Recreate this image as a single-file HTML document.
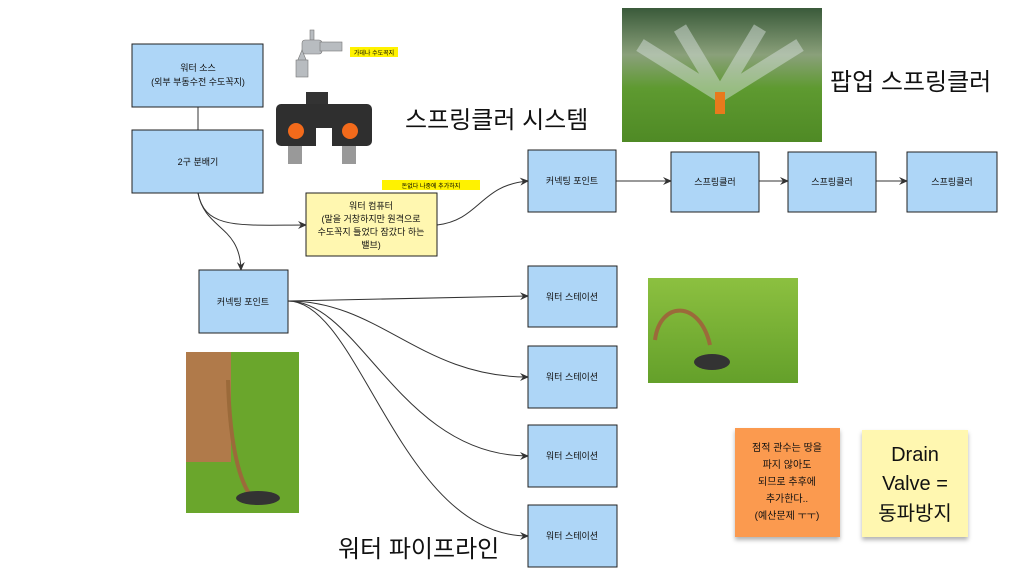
<!DOCTYPE html>
<html><head><meta charset="utf-8"><style>
body{margin:0;width:1024px;height:580px;background:#fff;overflow:hidden;font-family:"Liberation Sans","Noto Sans CJK KR",sans-serif}
</style></head><body>
<svg width="1024" height="580" xmlns="http://www.w3.org/2000/svg" style="font-family:'Liberation Sans','Noto Sans CJK KR',sans-serif">
<defs>
<marker id="a" markerWidth="10" markerHeight="10" refX="8" refY="5" orient="auto" markerUnits="userSpaceOnUse"><path d="M0,1 L9,5 L0,9 L3,5z" fill="#333"/></marker>
<linearGradient id="g1" x1="0" y1="0" x2="0" y2="1"><stop offset="0" stop-color="#3a5a3a"/><stop offset="0.35" stop-color="#8aa07a"/><stop offset="0.6" stop-color="#5e9a30"/><stop offset="1" stop-color="#4f8a25"/></linearGradient>
<linearGradient id="g2" x1="0" y1="0" x2="0" y2="1"><stop offset="0" stop-color="#8cc040"/><stop offset="1" stop-color="#64a02a"/></linearGradient>
<filter id="sh"><feDropShadow dx="0" dy="3" stdDeviation="2" flood-opacity="0.3"/></filter>
</defs>
<g stroke="#333" stroke-width="1" fill="none">
<line x1="198" y1="107" x2="198" y2="130"/>
<path d="M198,193 C205,230 240,225 306,225" marker-end="url(#a)"/>
<path d="M198,193 C205,230 240,225 241,270" marker-end="url(#a)"/>
<path d="M437,225 C480,220 480,185 528,181" marker-end="url(#a)"/>
<line x1="616" y1="181" x2="671" y2="181" marker-end="url(#a)"/>
<line x1="759" y1="181" x2="788" y2="181" marker-end="url(#a)"/>
<line x1="876" y1="181" x2="907" y2="181" marker-end="url(#a)"/>
<path d="M288,301 L528,296" marker-end="url(#a)"/>
<path d="M288,301 C380,301 420,377 528,377" marker-end="url(#a)"/>
<path d="M288,301 C360,301 400,456 528,456" marker-end="url(#a)"/>
<path d="M288,301 C360,301 400,536 528,536" marker-end="url(#a)"/>
</g>
<g fill="#aed6f7" stroke="#222" stroke-width="1">
<rect x="132" y="44" width="131" height="63"/>
<rect x="132" y="130" width="131" height="63"/>
<rect x="528" y="150" width="88" height="62"/>
<rect x="671" y="152" width="88" height="60"/>
<rect x="788" y="152" width="88" height="60"/>
<rect x="907" y="152" width="90" height="60"/>
<rect x="199" y="270" width="89" height="63"/>
<rect x="528" y="266" width="89" height="61"/>
<rect x="528" y="346" width="89" height="62"/>
<rect x="528" y="425" width="89" height="62"/>
<rect x="528" y="505" width="89" height="62"/>
</g>
<rect x="306" y="193" width="131" height="63" fill="#fff7b0" stroke="#222"/>
<rect x="382" y="180" width="98" height="10" fill="#fff200"/>
<rect x="350" y="47" width="48" height="10" fill="#fff200"/>
<g font-size="9" fill="#111" text-anchor="middle">
<text x="198" y="71">워터 소스</text><text x="198" y="85">(외부 부동수전 수도꼭지)</text>
<text x="198" y="165">2구 분배기</text>
<text x="371" y="209">워터 컴퓨터</text><text x="371" y="222">(말을 거창하지만 원격으로</text><text x="371" y="235">수도꼭지 틀었다 잠갔다 하는</text><text x="371" y="248">밸브)</text>
<text x="572" y="184">커넥팅 포인트</text>
<text x="715" y="185">스프링클러</text><text x="832" y="185">스프링클러</text><text x="952" y="185">스프링클러</text>
<text x="243" y="305">커넥팅 포인트</text>
<text x="572" y="300">워터 스테이션</text><text x="572" y="380">워터 스테이션</text><text x="572" y="459">워터 스테이션</text><text x="572" y="539">워터 스테이션</text>
</g>
<text x="431" y="188" font-size="6" text-anchor="middle">돈없다 나중에 추가하지</text>
<text x="374" y="55" font-size="6" text-anchor="middle">가데나 수도꼭지</text>
<text x="405" y="128" font-size="24" fill="#111">스프링클러 시스템</text>
<text x="830" y="90" font-size="24" fill="#111">팝업 스프링클러</text>
<text x="338" y="557" font-size="24" fill="#111">워터 파이프라인</text>
<g fill="#b8bcc0" stroke="#777" stroke-width="0.6"><rect x="310" y="30" width="4" height="10"/><rect x="302" y="40" width="20" height="14" rx="3"/><rect x="320" y="42" width="22" height="9"/><path d="M302,50 l-5,12 h10 z"/><rect x="296" y="60" width="12" height="17"/></g>
<rect x="306" y="92" width="22" height="14" fill="#333"/>
<rect x="276" y="104" width="96" height="42" rx="5" fill="#2f2f2f"/>
<rect x="316" y="128" width="16" height="20" fill="#fff"/>
<circle cx="296" cy="131" r="8" fill="#f26a1b"/><circle cx="350" cy="131" r="8" fill="#f26a1b"/>
<rect x="288" y="146" width="14" height="18" fill="#999"/><rect x="342" y="146" width="14" height="18" fill="#999"/>
<rect x="622" y="8" width="200" height="134" fill="url(#g1)"/>
<path d="M720,95 L640,45 M720,95 L680,28 M720,95 L760,28 M720,95 L800,45" stroke="#e0e8e8" stroke-width="14" opacity="0.45"/>
<rect x="715" y="92" width="10" height="22" fill="#e87a1c"/>
<rect x="648" y="278" width="150" height="105" fill="url(#g2)"/>
<path d="M655,340 C660,300 700,300 710,345" stroke="#9b6a3a" stroke-width="4" fill="none"/>
<ellipse cx="712" cy="362" rx="18" ry="8" fill="#333"/>
<rect x="186" y="352" width="113" height="161" fill="#6aa62c"/>
<rect x="186" y="352" width="45" height="110" fill="#b07a4a"/>
<path d="M228,380 C230,450 240,480 250,495" stroke="#9b6a3a" stroke-width="4" fill="none"/>
<ellipse cx="258" cy="498" rx="22" ry="7" fill="#333"/>
<rect x="735" y="428" width="105" height="109" fill="#fb9a4f" filter="url(#sh)"/>
<g font-size="10" fill="#111" text-anchor="middle"><text x="787" y="451">점적 관수는 땅을</text><text x="787" y="468">파지 않아도</text><text x="787" y="485">되므로 추후에</text><text x="787" y="502">추가한다..</text><text x="787" y="519">(예산문제 ㅜㅜ)</text></g>
<rect x="862" y="430" width="106" height="107" fill="#fff7b0" filter="url(#sh)"/>
<g font-size="20" fill="#111" text-anchor="middle"><text x="915" y="461">Drain</text><text x="915" y="490">Valve =</text><text x="915" y="520">동파방지</text></g>
</svg>
</body></html>
